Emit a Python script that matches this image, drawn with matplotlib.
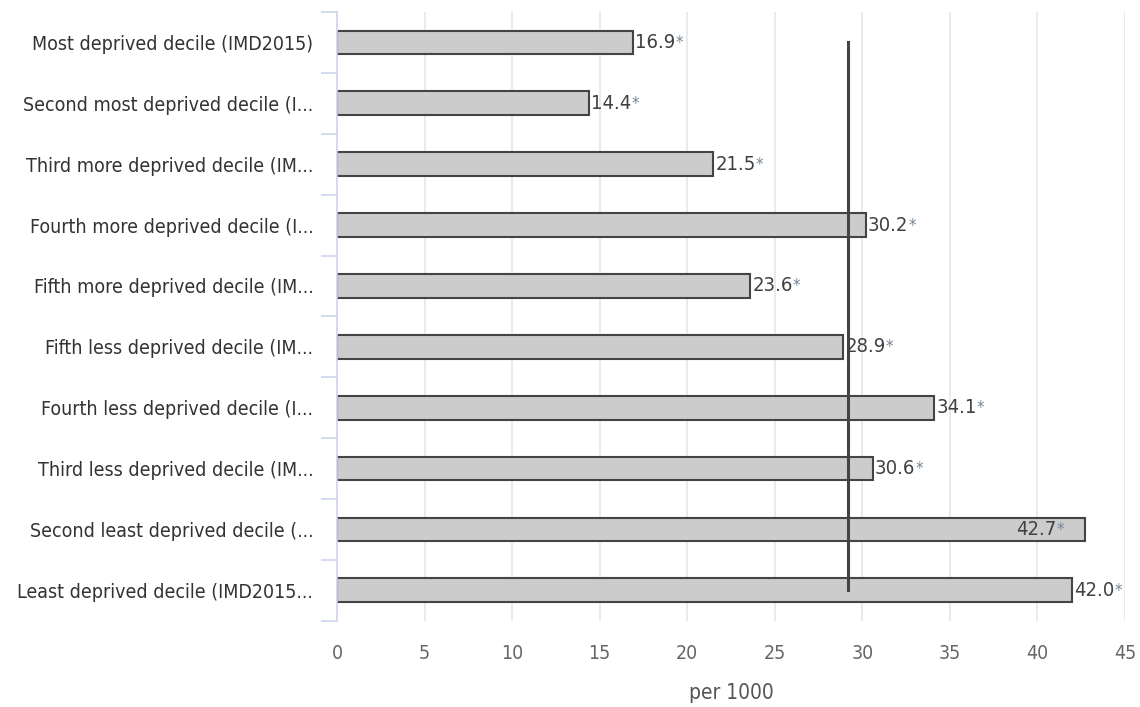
import matplotlib.pyplot as plt
import numpy as np

# data
categories = [
    "Most deprived decile (IMD2015)",
    "Second most deprived decile (I...",
    "Third more deprived decile (IM...",
    "Fourth more deprived decile (I...",
    "Fifth more deprived decile (IM...",
    "Fifth less deprived decile (IM...",
    "Fourth less deprived decile (I...",
    "Third less deprived decile (IM...",
    "Second least deprived decile (...",
    "Least deprived decile (IMD2015...",
]
values = [16.9, 14.4, 21.5, 30.2, 23.6, 28.9, 34.1, 30.6, 42.7, 42.0]
benchmark = 29.2
xticks = [0, 5, 10, 15, 20, 25, 30, 35, 40, 45]

plt.rcParams['font.family'] = ['DejaVu Sans']
plt.rcParams['font.stretch'] = 'condensed'

fig = plt.figure(figsize=(11.4, 7.07), dpi=100)
ax = fig.add_axes([0.2956, 0.122, 0.6912, 0.861])

y = np.arange(len(categories))
ax.barh(y, values, height=0.39, color='#cccccc', edgecolor='#444444', linewidth=1.5, zorder=2)
ax.plot([benchmark, benchmark], [y[0], y[-1]], color='#444444', linewidth=2.2, zorder=3)

for yi, v in zip(y, values):
    if v > 42.5:
        # label doesn't fit past the axis end, so it sits inside the bar
        t = ax.text(v - 1.6, yi, f"{v:.1f}", ha='right', va='center', fontsize=14.5, color='#404040', zorder=4)
    else:
        t = ax.text(v + 0.12, yi, f"{v:.1f}", ha='left', va='center', fontsize=14.5, color='#404040', zorder=4)
    ax.annotate('*', xy=(1, 0.95), xycoords=t, va='top', ha='left', fontsize=12, color='#778899', zorder=4)

ax.set_ylim(len(categories) - 0.5, -0.5)
ax.set_xlim(0, 45)
ax.set_yticks(y)
ax.set_yticklabels(categories, fontsize=14, color='#333333')
ax.set_yticks(np.arange(-0.5, len(categories), 1), minor=True)
ax.tick_params(axis='y', which='major', length=0, pad=17)
ax.tick_params(axis='y', which='minor', length=11.5, color='#ccd6eb', width=1.2)

ax.set_xticks(xticks)
ax.tick_params(axis='x', length=0, labelsize=14, colors='#666666', pad=17)
ax.set_xlabel("per 1000", fontsize=15, color='#555555', labelpad=14)
ax.grid(axis='x', color='#e6e6e6', linewidth=1.2, zorder=0)
ax.set_axisbelow(True)

for s in ['top', 'right', 'bottom']:
    ax.spines[s].set_visible(False)
ax.spines['left'].set_color('#ccd6eb')
ax.spines['left'].set_linewidth(1.2)

fig.savefig('out.png', dpi=100)
